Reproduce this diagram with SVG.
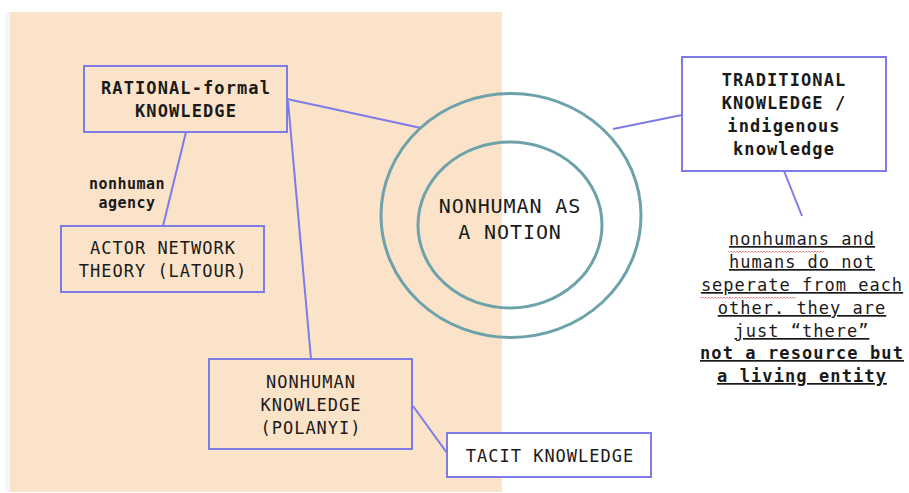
<svg xmlns="http://www.w3.org/2000/svg" width="909" height="493" viewBox="0 0 909 493">
<style>
.box{fill:none;stroke:#7d7be8;stroke-width:2}
.con{stroke:#7d7be8;stroke-width:2;fill:none}
.ring{fill:none;stroke:#6ea2ab;stroke-width:3}
text{font-family:"DejaVu Sans Mono","Liberation Mono",monospace;fill:#1a1a1a;text-anchor:middle}
.r{font-size:17px;letter-spacing:1px}
.b{font-size:17px;font-weight:bold;letter-spacing:1.1px}
.s{font-size:15px;font-weight:bold;letter-spacing:0.5px}
.big{font-size:20px;letter-spacing:0.9px}
.u{text-decoration:underline;text-decoration-thickness:2px;text-underline-offset:3px}
.sq{fill:none;stroke:#f08a8a;stroke-width:1}
</style>
<rect x="0" y="0" width="909" height="493" fill="#ffffff"/>
<rect x="5" y="12" width="5" height="480" fill="#f4f7f9"/>
<rect x="10" y="12" width="492" height="480" fill="#fbe3c9"/>

<g id="connectors">
<line class="con" x1="287" y1="99" x2="421" y2="128"/>
<line class="con" x1="186" y1="132" x2="163" y2="226"/>
<line class="con" x1="288" y1="101" x2="311" y2="359"/>
<line class="con" x1="413" y1="406" x2="447" y2="453"/>
<line class="con" x1="682" y1="115" x2="613" y2="129"/>
<line class="con" x1="784" y1="171" x2="802" y2="216"/>
</g>

<g id="notion">
<ellipse class="ring" cx="511" cy="215.5" rx="130" ry="122"/>
<ellipse class="ring" cx="510" cy="225" rx="92" ry="83"/>
<text class="big" x="510" y="213">NONHUMAN AS</text>
<text class="big" x="510" y="239">A NOTION</text>
</g>

<g id="rational">
<rect class="box" x="84" y="66" width="203" height="66"/>
<text class="b" x="186" y="94">RATIONAL-formal</text>
<text class="b" x="186" y="117">KNOWLEDGE</text>
</g>

<g id="agency-label">
<text class="s" x="127" y="189">nonhuman</text>
<text class="s" x="127" y="208">agency</text>
</g>

<g id="actor">
<rect class="box" x="61" y="226" width="203" height="66"/>
<text class="r" x="163" y="254">ACTOR NETWORK</text>
<text class="r" x="163" y="277">THEORY (LATOUR)</text>
</g>

<g id="polanyi">
<rect class="box" x="209" y="359" width="203" height="90"/>
<text class="r" x="311" y="388">NONHUMAN</text>
<text class="r" x="311" y="411">KNOWLEDGE</text>
<text class="r" x="311" y="434">(POLANYI)</text>
</g>

<g id="tacit">
<rect class="box" x="447" y="433" width="204" height="44" style="fill:#ffffff"/>
<text class="r" x="550" y="462">TACIT KNOWLEDGE</text>
</g>

<g id="traditional">
<rect class="box" x="682" y="57" width="204" height="114" style="fill:#ffffff"/>
<text class="b" x="784" y="86">TRADITIONAL</text>
<text class="b" x="784" y="109">KNOWLEDGE /</text>
<text class="b" x="784" y="132">indigenous</text>
<text class="b" x="784" y="155">knowledge</text>
</g>

<g id="note">
<path class="sq" d="M728,251 l1.5,1.5 l1.5,-1.5 l1.5,1.5 l1.5,-1.5 l1.5,1.5 l1.5,-1.5 l1.5,1.5 l1.5,-1.5 l1.5,1.5 l1.5,-1.5 l1.5,1.5 l1.5,-1.5 l1.5,1.5 l1.5,-1.5 l1.5,1.5 l1.5,-1.5 l1.5,1.5 l1.5,-1.5 l1.5,1.5 l1.5,-1.5 l1.5,1.5 l1.5,-1.5 l1.5,1.5 l1.5,-1.5 l1.5,1.5 l1.5,-1.5 l1.5,1.5 l1.5,-1.5 l1.5,1.5 l1.5,-1.5 l1.5,1.5 l1.5,-1.5 l1.5,1.5 l1.5,-1.5 l1.5,1.5 l1.5,-1.5 l1.5,1.5 l1.5,-1.5 l1.5,1.5 l1.5,-1.5 l1.5,1.5 l1.5,-1.5 l1.5,1.5 l1.5,-1.5 l1.5,1.5 l1.5,-1.5 l1.5,1.5 l1.5,-1.5 l1.5,1.5 l1.5,-1.5 l1.5,1.5 l1.5,-1.5 l1.5,1.5 l1.5,-1.5 l1.5,1.5 l1.5,-1.5 l1.5,1.5 l1.5,-1.5 l1.5,1.5 l1.5,-1.5 l1.5,1.5 l1.5,-1.5 l1.5,1.5 l1.5,-1.5"/>
<path class="sq" d="M700,297 l1.5,1.5 l1.5,-1.5 l1.5,1.5 l1.5,-1.5 l1.5,1.5 l1.5,-1.5 l1.5,1.5 l1.5,-1.5 l1.5,1.5 l1.5,-1.5 l1.5,1.5 l1.5,-1.5 l1.5,1.5 l1.5,-1.5 l1.5,1.5 l1.5,-1.5 l1.5,1.5 l1.5,-1.5 l1.5,1.5 l1.5,-1.5 l1.5,1.5 l1.5,-1.5 l1.5,1.5 l1.5,-1.5 l1.5,1.5 l1.5,-1.5 l1.5,1.5 l1.5,-1.5 l1.5,1.5 l1.5,-1.5 l1.5,1.5 l1.5,-1.5 l1.5,1.5 l1.5,-1.5 l1.5,1.5 l1.5,-1.5 l1.5,1.5 l1.5,-1.5 l1.5,1.5 l1.5,-1.5 l1.5,1.5 l1.5,-1.5 l1.5,1.5 l1.5,-1.5 l1.5,1.5 l1.5,-1.5 l1.5,1.5 l1.5,-1.5 l1.5,1.5 l1.5,-1.5 l1.5,1.5 l1.5,-1.5 l1.5,1.5 l1.5,-1.5 l1.5,1.5 l1.5,-1.5 l1.5,1.5 l1.5,-1.5 l1.5,1.5 l1.5,-1.5 l1.5,1.5 l1.5,-1.5 l1.5,1.5 l1.5,-1.5"/>
<text class="r u" x="802" y="245">nonhumans and</text>
<text class="r u" x="802" y="268">humans do not</text>
<text class="r u" x="802" y="291">seperate from each</text>
<text class="r u" x="802" y="314">other. they are</text>
<text class="r u" x="802" y="337">just “there”</text>
<text class="b u" x="802" y="359">not a resource but</text>
<text class="b u" x="802" y="382">a living entity</text>
</g>
</svg>
